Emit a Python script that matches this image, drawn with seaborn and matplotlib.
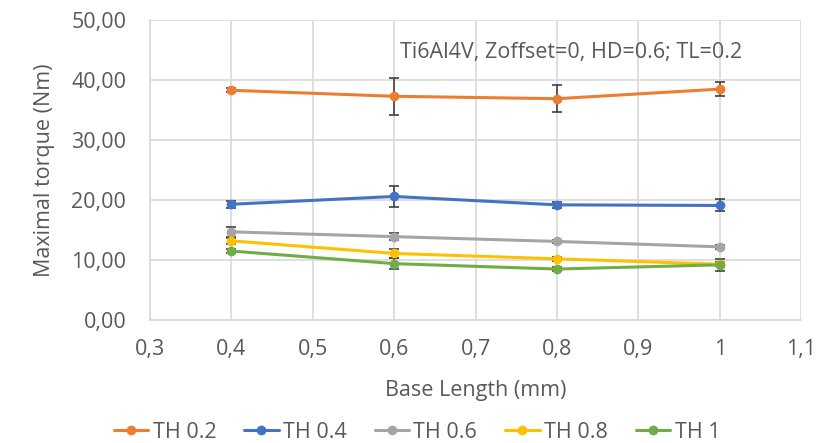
import numpy as np
import pandas as pd
import matplotlib
matplotlib.use("Agg")
import matplotlib.pyplot as plt
import seaborn as sns
from matplotlib.ticker import FuncFormatter, MultipleLocator

# Data
base_length = [0.4, 0.6, 0.8, 1.0]
series_names = ["TH 0.2", "TH 0.4", "TH 0.6", "TH 0.8", "TH 1"]
th02 = [38.3, 37.3, 36.9, 38.5]
th04 = [19.3, 20.6, 19.2, 19.1]
th06 = [14.7, 13.9, 13.1, 12.2]
th08 = [13.2, 11.1, 10.2, 9.3]
th1 = [11.5, 9.4, 8.5, 9.2]
err02 = [0.3, 3.1, 2.2, 1.2]
err04 = [0.6, 1.7, 0.5, 1.0]
err06 = [0.8, 0.6, 0.3, 0.3]
err08 = [0.5, 0.8, 0.3, 0.3]
err1 = [0.3, 0.9, 0.3, 1.0]

colors = ["#ED7D31", "#4472C4", "#A5A5A5", "#FFC000", "#70AD47"]
values = [th02, th04, th06, th08, th1]
errors = [err02, err04, err06, err08, err1]

df = pd.DataFrame({
    "Base Length (mm)": base_length * len(series_names),
    "Maximal torque (Nm)": sum(values, []),
    "err": sum(errors, []),
    "series": [s for s in series_names for _ in base_length],
})

sns.set_style("whitegrid")
plt.rcParams["font.family"] = ["Open Sans", "DejaVu Sans"]
text_color = "#595959"
fs = 15.5

fig = plt.figure(figsize=(8.16, 4.43), dpi=100)
ax = fig.add_axes([0.1838, 0.2776, 0.798, 0.677])

# error bars first so the markers sit on top
for name, c in zip(series_names, colors):
    sub = df[df["series"] == name]
    ax.errorbar(sub["Base Length (mm)"], sub["Maximal torque (Nm)"], yerr=sub["err"],
                fmt="none", ecolor="#404040", elinewidth=1.2, capsize=3.5, capthick=1.2, zorder=2)

sns.lineplot(data=df, x="Base Length (mm)", y="Maximal torque (Nm)", hue="series",
             palette=colors, marker="o", markersize=7, markeredgewidth=0,
             linewidth=2.2, ax=ax, zorder=3)

ax.set_xlim(0.3, 1.1)
ax.set_ylim(0, 50)
ax.xaxis.set_major_locator(MultipleLocator(0.1))
ax.yaxis.set_major_locator(MultipleLocator(10))


def fmt_x(v, pos):
    s = f"{v:.1f}".replace(".", ",")
    return "1" if s == "1,0" else s


ax.xaxis.set_major_formatter(FuncFormatter(fmt_x))
ax.yaxis.set_major_formatter(FuncFormatter(lambda v, p: f"{v:.2f}".replace(".", ",")))

ax.grid(True, color="#D9D9D9", linewidth=1.2)
for side in ["top", "right"]:
    ax.spines[side].set_visible(False)
for side in ["bottom", "left"]:
    ax.spines[side].set_color("#D9D9D9")
    ax.spines[side].set_linewidth(1.2)

ax.tick_params(axis="y", labelsize=fs, colors=text_color, length=0, pad=17)
ax.tick_params(axis="x", labelsize=fs, colors=text_color, length=0, pad=14)
ax.set_xlabel("Base Length (mm)", fontsize=fs, color=text_color, labelpad=14)
ax.set_ylabel("Maximal torque (Nm)", fontsize=fs, color=text_color, labelpad=12)

ax.text(0.909, 0.893, "Ti6Al4V, Zoffset=0, HD=0.6; TL=0.2", transform=ax.transAxes,
        ha="right", va="center", fontsize=fs, color=text_color)

handles, labels = ax.get_legend_handles_labels()
ax.get_legend().remove()
fig.legend(handles, labels, loc="center", bbox_to_anchor=(417 / 816, 1 - 432 / 443), ncol=5,
           frameon=False, fontsize=fs, handlelength=1.6, columnspacing=1.3,
           handletextpad=0.2, labelcolor=text_color)

fig.savefig("out.png", dpi=100)
